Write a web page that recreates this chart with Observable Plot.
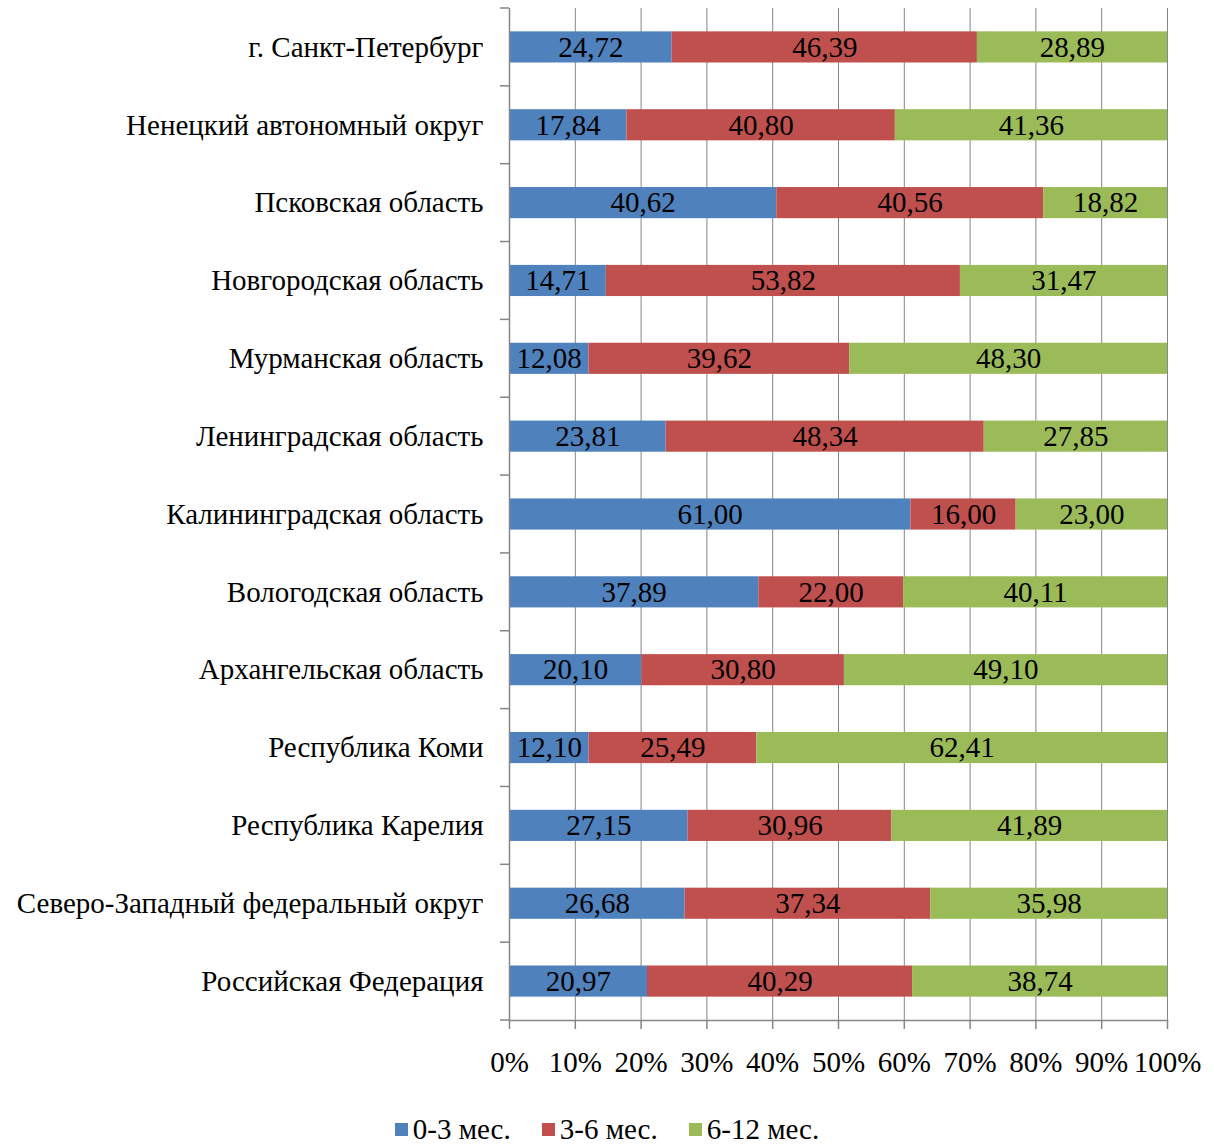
<!DOCTYPE html>
<html>
<head>
<meta charset="utf-8">
<script src="https://cdn.jsdelivr.net/npm/d3@7"></script>
<script src="https://cdn.jsdelivr.net/npm/@observablehq/plot@0.6"></script>
<style>
  body { margin: 0; background: #fff; font-family: "Liberation Serif", "Times New Roman", serif; }
  #chart svg { display: block; }
  #chart svg text { font-family: "Liberation Serif", "Times New Roman", serif; font-size: 29px; }
  #legend { display: flex; justify-content: center; gap: 31px; margin-top: 21px; font-size: 29px; line-height: 26px; height: 26px; color: #000; }
  #legend .item { display: flex; align-items: center; gap: 5px; }
  #legend .swatch { width: 13px; height: 13px; display: inline-block; }
</style>
</head>
<body>
<div id="chart"></div>
<div id="legend"></div>
<script>
// Regions, top to bottom
const regions = [
  "г. Санкт-Петербург",
  "Ненецкий автономный округ",
  "Псковская область",
  "Новгородская область",
  "Мурманская область",
  "Ленинградская область",
  "Калининградская область",
  "Вологодская область",
  "Архангельская область",
  "Республика Коми",
  "Республика Карелия",
  "Северо-Западный федеральный округ",
  "Российская Федерация"
];

// Shares of each duration group, %
const share0to3  = [24.72, 17.84, 40.62, 14.71, 12.08, 23.81, 61.00, 37.89, 20.10, 12.10, 27.15, 26.68, 20.97];
const share3to6  = [46.39, 40.80, 40.56, 53.82, 39.62, 48.34, 16.00, 22.00, 30.80, 25.49, 30.96, 37.34, 40.29];
const share6to12 = [28.89, 41.36, 18.82, 31.47, 48.30, 27.85, 23.00, 40.11, 49.10, 62.41, 41.89, 35.98, 38.74];

const seriesNames  = ["0-3 мес.", "3-6 мес.", "6-12 мес."];
const seriesColors = ["#4F81BD", "#C0504D", "#9BBB59"];
const xTicks = [0, 10, 20, 30, 40, 50, 60, 70, 80, 90, 100];

const seriesValues = [share0to3, share3to6, share6to12];
const rows = [];
regions.forEach((region, i) => {
  seriesNames.forEach((series, s) => rows.push({region, series, value: seriesValues[s][i]}));
});

const fmt = v => v.toFixed(2).replace(".", ",");
const gray = "#868686";
const font = "'Liberation Serif', 'Times New Roman', serif";

// Small ticks on the category axis, placed on the boundaries between bands
function categoryBoundaryTicks(index, scales, values, dimensions) {
  const {marginTop, marginBottom, marginLeft, height} = dimensions;
  const step = (height - marginTop - marginBottom) / regions.length;
  const g = d3.create("svg:g").attr("stroke", gray).attr("stroke-width", 1.5);
  for (let k = 0; k <= regions.length; ++k) {
    const yy = marginTop + k * step;
    g.append("line")
      .attr("x1", marginLeft - 9).attr("x2", marginLeft)
      .attr("y1", yy).attr("y2", yy);
  }
  return g.node();
}

const chart = Plot.plot({
  width: 1214,
  height: 1095,
  marginTop: 8,
  marginBottom: 75,
  marginLeft: 509,
  marginRight: 47,
  style: {fontFamily: font, fontSize: "29px", color: "#000", background: "#fff"},
  x: {domain: [0, 100]},
  y: {domain: regions, paddingInner: 0.6, paddingOuter: 0.3, round: false},
  color: {domain: seriesNames, range: seriesColors},
  marks: [
    Plot.gridX(xTicks, {stroke: gray, strokeOpacity: 1, strokeWidth: 1}),
    Plot.barX(rows, Plot.stackX({x: "value", y: "region", fill: "series", order: seriesNames})),
    Plot.text(rows, Plot.stackX({
      x: "value", y: "region", z: "series", order: seriesNames,
      text: d => fmt(d.value), fill: "#000", fontSize: 29
    })),
    Plot.ruleX([0], {stroke: gray, strokeWidth: 1.5}),
    Plot.frame({anchor: "bottom", stroke: gray, strokeWidth: 1.5}),
    Plot.axisX(xTicks, {
      tickSize: 9, tickPadding: 22, stroke: gray, strokeWidth: 1.5,
      fill: "#000", fontSize: 29, tickFormat: d => d + "%", label: null
    }),
    Plot.axisY({tickSize: 0, tickPadding: 26, fontSize: 29, fill: "#000", label: null}),
    categoryBoundaryTicks
  ]
});
document.getElementById("chart").append(chart);

// Legend below the chart
const legend = d3.select("#legend");
seriesNames.forEach((name, i) => {
  const item = legend.append("div").attr("class", "item");
  item.append("span").attr("class", "swatch").style("background", seriesColors[i]);
  item.append("span").text(name);
});
</script>
</body>
</html>
